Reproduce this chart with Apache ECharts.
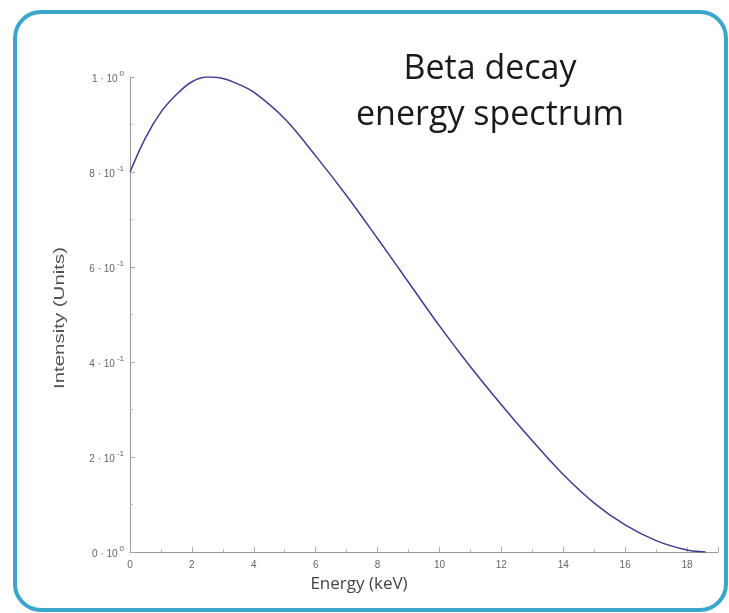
<!DOCTYPE html>
<html>
<head>
<meta charset="utf-8">
<script src="https://cdn.jsdelivr.net/npm/echarts@6/dist/echarts.min.js"></script>
<style>html,body{margin:0;padding:0;background:#fff;}#c{width:729px;height:613px;}</style>
</head>
<body>
<div id="c"></div>
<script>
var titleLines = ['Beta decay', 'energy spectrum'];
var xAxisName = 'Energy (keV)';
var yAxisName = 'Intensity (Units)';
var energy = [0, 0.5, 1, 1.5, 2, 2.5, 3, 3.5, 4, 5, 6, 7, 8, 9, 10, 11, 12, 13, 14, 15, 16, 17, 18, 18.6];
var intensity = [0.800, 0.872, 0.926, 0.963, 0.990, 1.000, 0.997, 0.985, 0.968, 0.912, 0.834, 0.750, 0.660, 0.568, 0.476, 0.390, 0.310, 0.234, 0.163, 0.103, 0.057, 0.024, 0.004, 0.000];
var yTickMantissa = ['0', '2', '4', '6', '8', '1'];
var yTickExponent = ['0', '-1', '-1', '-1', '-1', '0'];
var xTickLabels = ['0', '2', '4', '6', '8', '10', '12', '14', '16', '18'];

var data = energy.map(function (e, i) { return [e, intensity[i]]; });

var chart = echarts.init(document.getElementById('c'), null, {renderer: 'canvas'});
chart.setOption({
  backgroundColor: '#fff',
  animation: false,
  graphic: [
    {type: 'rect', shape: {x: 15, y: 12, width: 711, height: 598, r: 26},
     style: {fill: 'none', stroke: '#3aa6cc', lineWidth: 4}, z: 0},
    {type: 'text', x: 490, y: 69, style: {text: titleLines[0], font: '34px "Open Sans"', fill: '#1a1a1a', align: 'center', verticalAlign: 'middle'}},
    {type: 'text', x: 490, y: 115, style: {text: titleLines[1], font: '34px "Open Sans"', fill: '#1a1a1a', align: 'center', verticalAlign: 'middle'}},
    {type: 'text', x: 359, y: 584, style: {text: xAxisName, font: '17px "Open Sans"', fill: '#444', align: 'center', verticalAlign: 'middle'}},
    {type: 'text', x: 60, y: 318, rotation: Math.PI / 2, scaleX: 1.46,
     style: {text: yAxisName, font: '14px "Liberation Sans"', fill: '#555', align: 'center', verticalAlign: 'middle'}}
  ],
  grid: {left: 130, right: 11, top: 77, bottom: 61, containLabel: false},
  xAxis: {
    type: 'value', min: 0, max: 19, interval: 2,
    axisLine: {lineStyle: {color: '#999', width: 1}},
    axisTick: {inside: true, length: 5, lineStyle: {color: '#aaa'}},
    minorTick: {show: true, splitNumber: 2, length: 3, lineStyle: {color: '#bbb'}},
    splitLine: {show: false},
    axisLabel: {
      margin: 8, fontSize: 10, fontFamily: 'Liberation Sans', color: '#666',
      formatter: function (v) { var i = xTickLabels.indexOf(String(v)); return i >= 0 ? xTickLabels[i] : ''; }
    }
  },
  yAxis: {
    type: 'value', min: 0, max: 1, interval: 0.2,
    axisLine: {show: true, lineStyle: {color: '#999', width: 1}},
    axisTick: {show: true, inside: true, length: 5, lineStyle: {color: '#aaa'}},
    minorTick: {show: true, splitNumber: 2, length: 3, lineStyle: {color: '#bbb'}},
    splitLine: {show: false},
    axisLabel: {
      margin: 6, color: '#666',
      formatter: function (v) {
        var i = Math.round(v / 0.2);
        return '{b|' + yTickMantissa[i] + ' · 10}{s|' + yTickExponent[i] + '}';
      },
      rich: {
        b: {fontSize: 10, fontFamily: 'Liberation Sans', color: '#666', lineHeight: 15, verticalAlign: 'bottom'},
        s: {fontSize: 8, fontFamily: 'Liberation Sans', color: '#666', lineHeight: 1, verticalAlign: 'top', padding: [0, 0, 0, 2]}
      }
    }
  },
  series: [{
    type: 'line', data: data, smooth: 0.35, showSymbol: false,
    lineStyle: {color: '#3b3f8c', width: 1.5}
  }]
});
</script>
</body>
</html>
